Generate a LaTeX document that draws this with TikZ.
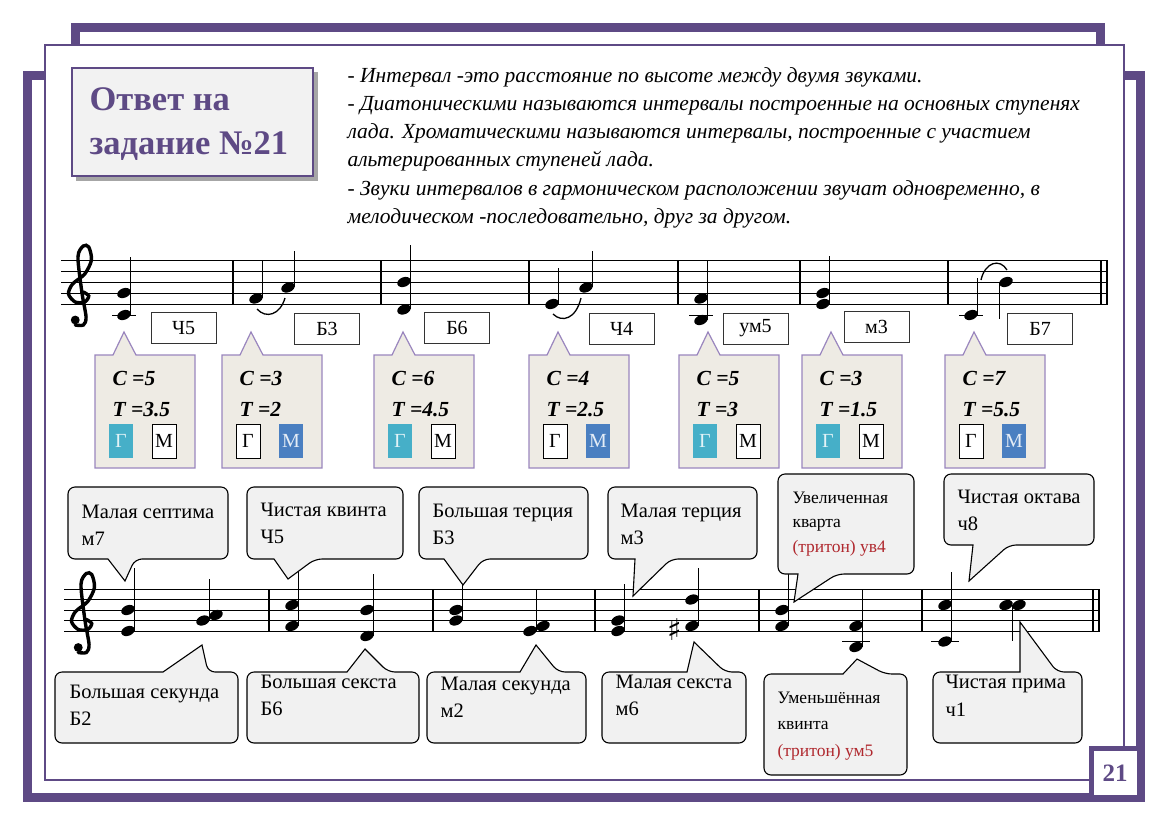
\documentclass[tikz,border=0pt]{standalone}
\usepackage{fontspec}
\setmainfont{Liberation Serif}
\newfontfamily\symf{DejaVu Sans}
\usetikzlibrary{shapes.geometric}
\definecolor{pdark}{HTML}{5E4A85}
\definecolor{plight}{HTML}{9A86BE}
\definecolor{beig}{HTML}{EEEBE4}
\definecolor{cyanb}{HTML}{46AFC8}
\definecolor{blueb}{HTML}{4A7FC1}
\definecolor{greyb}{HTML}{F1F1F1}
\definecolor{redt}{HTML}{B0282E}
\newcommand\Bubble[8]{\draw[bub] (#7,#8) -- (#5,#3) [rounded corners=7] -- (#1,#3) -- (#1,#4) -- (#2,#4) -- (#2,#3) -- (#6,#3) [sharp corners] -- cycle;}
\newcommand\TopCall[1]{\draw[tcall] (#1,355) -- ({#1+18},355) -- ({#1+29},332) -- ({#1+41},355) -- ({#1+100},355) -- ({#1+100},468) -- (#1,468) -- cycle;}
\newcommand\Clef[2]{\begin{scope}[shift={(#1,#2)},xscale=1.35]
\draw[line width=3.4,line cap=round] plot[smooth] coordinates {(1,-1) (5,3) (2,9) (-5,9) (-10,1) (-7,-9) (2,-19) (7,-33) (5,-46) (1,-47) (-3,-36) (0,0) (3,24) (1,32) (-5,32)};
\fill (-5,27) ellipse (3.3 and 4.4);
\end{scope}}
\begin{document}
\begin{tikzpicture}[x=1pt,y=-1pt,
  nhead/.style={ellipse,fill=black,minimum width=14pt,minimum height=9.5pt,inner sep=0,rotate=22},
  bub/.style={draw=black,fill=greyb,line width=1.1},
  tcall/.style={draw=plight,fill=beig,line width=1.2},
  lab/.style={draw=black!80,fill=white,minimum width=65pt,minimum height=31pt,inner sep=0,font=\fontsize{20}{20}\selectfont},
  gm/.style={minimum width=24pt,minimum height=34pt,inner sep=0,font=\fontsize{20}{20}\selectfont},
  gw/.style={gm,draw=black,fill=white},
  gc/.style={gm,fill=cyanb,text=white!85!cyanb},
  gb/.style={gm,fill=blueb,text=white!85!blueb},
  ctext/.style={anchor=base west,font=\fontsize{21.5}{21.5}\selectfont\bfseries\itshape},
  btext/.style={anchor=base west,font=\fontsize{20.5}{20.5}\selectfont,align=left},
  stext/.style={anchor=base west,font=\fontsize{17.5}{17.5}\selectfont},
  stem/.style={line width=1},
  bar/.style={line width=1.3}]
\useasboundingbox (0,0) rectangle (1170,828);
\fill[white] (0,0) rectangle (1170,828);
% frames
\draw[pdark,line width=9] (75,27) rectangle (1100,760);
\draw[pdark,line width=9] (27,75) rectangle (1140,797);
\draw[pdark,line width=1.2,fill=white] (45,45) rectangle (1124,780);
% page number
\draw[pdark,line width=5,fill=white] (1091,748) rectangle (1139,797);
\node[text=pdark,font=\fontsize{25}{25}\selectfont\bfseries] (pn) at (1115,773) {21};
% title
\fill[black!35] (76,72) rectangle (318,181);
\draw[pdark,line width=1.2,fill=black!5] (72,68) rectangle (313,176);
\node[anchor=base west,text=pdark,font=\fontsize{34.5}{34.5}\selectfont\bfseries] (t1) at (86,110) {Ответ на};
\node[anchor=base west,text=pdark,font=\fontsize{34.5}{34.5}\selectfont\bfseries] (t2) at (86,154) {задание №21};
% description
\begin{scope}[every node/.style={anchor=base west,font=\fontsize{21.5}{21.5}\selectfont\itshape}]
\node (d1) at (344,82) {- Интервал -это расстояние по высоте между двумя звуками.};
\node (d2) at (344,110) {- Диатоническими называются интервалы построенные на основных ступенях};
\node (d3) at (344,138) {лада. Хроматическими называются интервалы, построенные с участием};
\node (d4) at (344,166) {альтерированных ступеней лада.};
\node (d5) at (344,195) {- Звуки интервалов в гармоническом расположении звучат одновременно, в};
\node (d6) at (344,223) {мелодическом -последовательно, друг за другом.};
\end{scope}
% ===== top staff
\foreach \y in {260,271,282,293,304} \draw[line width=0.9] (61,\y) -- (1108,\y);
\foreach \x in {233,381,529,678,800,948} \draw[bar] (\x,260) -- (\x,304);
\draw[bar] (1101,260) -- (1101,304);
\draw[line width=2.5] (1107,260) -- (1107,304);
\Clef{82}{293}
% notes
\foreach \x/\y in {124/293,124/315,256/298.5,288/287.5,404/282,404/309.5,552/304,586/287.5,701/298.5,701/320,823/293,823/304,971/315,1006/282}
  \node[nhead] at (\x,\y) {};
\foreach \x in {124,701,971} \draw[line width=1] (\x-12,315) -- (\x+12,315);
\draw[stem] (130.5,315) -- (130.5,257);
\draw[stem] (262.5,298) -- (262.5,261);
\draw[stem] (294.5,287) -- (294.5,251);
\draw[stem] (410.5,309) -- (410.5,245);
\draw[stem] (558.5,304) -- (558.5,268);
\draw[stem] (592.5,287) -- (592.5,251);
\draw[stem] (707.5,320) -- (707.5,261);
\draw[stem] (829.5,304) -- (829.5,256);
\draw[stem] (977.5,315) -- (977.5,278);
\draw[stem] (999.5,282) -- (999.5,319);
\draw[line width=1.3] (257,309) .. controls (266,319) and (280,315) .. (285,298);
\draw[line width=1.3] (553,314) .. controls (562,323) and (576,319) .. (581,298);
\draw[line width=1.3] (981,280) .. controls (985,262) and (1000,258) .. (1007,270);
% labels
\node[lab] (l1) at (183.5,328) {Ч5};
\node[lab] (l2) at (327,328.5) {Б3};
\node[lab] (l3) at (457,328) {Б6};
\node[lab] (l4) at (621.5,328.5) {Ч4};
\node[lab] (l5) at (755.5,328.5) {ум5};
\node[lab] (l6) at (876.5,326.5) {м3};
\node[lab] (l7) at (1040,328.5) {Б7};
% top callouts
\foreach \bx/\c/\t/\g/\m [count=\i] in {95/5/3.5/gc/gw,222/3/2/gw/gb,374/6/4.5/gc/gw,529/4/2.5/gw/gb,679/5/3/gc/gw,802/3/1.5/gc/gw,945/7/5.5/gw/gb}{
  \TopCall{\bx}
  \node[ctext] (c\i) at (\bx+14,385) {С =\c};
  \node[ctext] (tt\i) at (\bx+14,416) {Т =\t};
  \node[\g] (g\i) at (\bx+26,441) {Г};
  \node[\m] (m\i) at (\bx+69,441) {М};
}
% ===== bottom staff
\foreach \y in {589,599.5,610,620.5,631} \draw[line width=0.9] (64,\y) -- (1100,\y);
\foreach \x in {269,433,595,759,922} \draw[bar] (\x,589) -- (\x,631);
\draw[bar] (1093,589) -- (1093,631);
\draw[line width=2.5] (1099,589) -- (1099,631);
\Clef{85}{620.5}
\foreach \x/\y in {128/610,128/631,203/620.5,216/615,292/626,292/605,367/610,367/636,456/610,456/620.5,530/631,543/626,618/631,618/620.5,692/626,692/599.5,782/626,782/610,856/626,856/647,945/605,945/641.5,1006/605,1019/605}
  \node[nhead] at (\x,\y) {};
\draw[line width=1] (842,641.5) -- (870,641.5);
\draw[line width=1] (931,641.5) -- (959,641.5);
\node[font=\symf\fontsize{30}{30}\selectfont] (sh) at (675,630) {♯};
\foreach \x/\a/\b in {134.5/631/568,209.5/620/579,298.5/626/566,373.5/636/574,462.5/620/581,536.5/631/590,624.5/631/584,698.5/626/568,788.5/626/574,862.5/647/590,951.5/641/572}
  \draw[stem] (\x,\a) -- (\x,\b);
\draw[stem] (1012.5,605) -- (1012.5,641);
% bottom callouts: x1 x2 ybase yother b1 b2 ax ay
\Bubble{68}{228}{559}{487}{108}{135}{125}{581}
\Bubble{55}{238}{672}{743}{163}{208}{202}{645}
\Bubble{247}{403}{559}{487}{274}{315}{288}{579}
\Bubble{247}{419}{672}{743}{347}{388}{365}{649}
\Bubble{419}{588}{559}{487}{444}{483}{463}{585}
\Bubble{427}{586}{672}{743}{520}{558}{536}{645}
\Bubble{608}{757}{559}{487}{635}{671}{633}{596}
\Bubble{602}{746}{672}{743}{687}{725}{694}{642}
\Bubble{778}{914}{574}{474}{798}{837}{794}{602}
\Bubble{764}{907}{674}{775}{843}{885}{857}{659}
\Bubble{944}{1094}{545}{474}{973}{1009}{969}{581}
\Bubble{933}{1082}{672}{743}{1020}{1057}{1020}{622}
\node[btext] (b1) at (78,518) {Малая септима};
\node[btext] (b1b) at (78,545) {м7};
\node[btext] (b2) at (66,698) {Большая секунда};
\node[btext] (b2b) at (66,725) {Б2};
\node[btext] (b3) at (257,516) {Чистая квинта};
\node[btext] (b3b) at (257,543) {Ч5};
\node[btext] (b4) at (257,688) {Большая секста};
\node[btext] (b4b) at (257,715) {Б6};
\node[btext] (b5) at (429,517) {Большая терция};
\node[btext] (b5b) at (429,544) {Б3};
\node[btext] (b6) at (437,690) {Малая секунда};
\node[btext] (b6b) at (437,717) {м2};
\node[btext] (b7) at (617,517) {Малая терция};
\node[btext] (b7b) at (617,544) {м3};
\node[btext] (b8) at (612,688) {Малая секста};
\node[btext] (b8b) at (612,715) {м6};
\node[stext] (b9) at (789,503) {Увеличенная};
\node[stext] (b9b) at (789,527) {кварта};
\node[stext,text=redt] (b9c) at (789,552) {(тритон) ув4};
\node[stext] (b10) at (774,703) {Уменьшённая};
\node[stext] (b10b) at (774,729) {квинта};
\node[stext,text=redt] (b10c) at (774,756) {(тритон) ум5};
\node[btext] (b11) at (954,503) {Чистая октава};
\node[btext] (b11b) at (954,530) {ч8};
\node[btext] (b12) at (942,688) {Чистая прима};
\node[btext] (b12b) at (942,716) {ч1};
\end{tikzpicture}
\end{document}
